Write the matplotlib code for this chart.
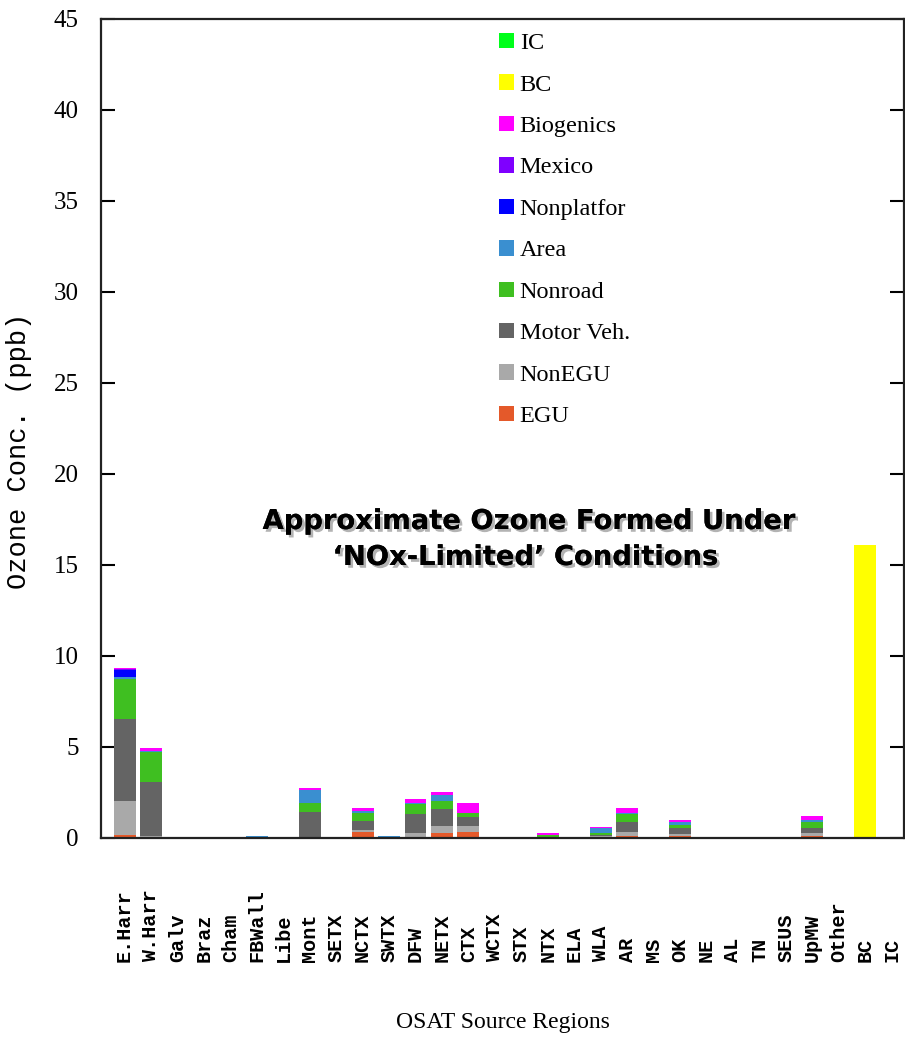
import matplotlib
matplotlib.use("Agg")
import matplotlib.pyplot as plt
import matplotlib.patheffects as pe
from matplotlib.patches import Patch
from matplotlib.transforms import blended_transform_factory

# source regions along the x axis
regions = ['E.Harr', 'W.Harr', 'Galv', 'Braz', 'Cham', 'FBWall', 'Libe', 'Mont',
           'SETX', 'NCTX', 'SWTX', 'DFW', 'NETX', 'CTX', 'WCTX', 'STX', 'NTX',
           'ELA', 'WLA', 'AR', 'MS', 'OK', 'NE', 'AL', 'TN', 'SEUS', 'UpMW',
           'Other', 'BC', 'IC']

# ozone contribution (ppb) by source category, one value per region
egu = [0.18, 0, 0, 0, 0, 0, 0, 0, 0, 0.33, 0, 0, 0.26, 0.35, 0, 0, 0,
       0, 0, 0.10, 0, 0.10, 0, 0, 0, 0, 0.10, 0, 0, 0]
nonegu = [1.84, 0.10, 0, 0, 0, 0, 0, 0.05, 0, 0.10, 0, 0.26, 0.42, 0.31, 0, 0, 0,
          0, 0.10, 0.25, 0, 0.12, 0, 0, 0, 0, 0.16, 0, 0, 0]
motor_veh = [4.50, 2.96, 0, 0, 0, 0, 0, 1.36, 0, 0.50, 0, 1.04, 0.90, 0.51, 0, 0, 0.08,
             0, 0.05, 0.51, 0, 0.31, 0, 0, 0, 0, 0.31, 0, 0, 0]
nonroad = [2.22, 1.68, 0, 0, 0, 0, 0, 0.49, 0, 0.44, 0, 0.55, 0.44, 0.20, 0, 0, 0.10,
           0, 0.10, 0.46, 0, 0.18, 0.05, 0, 0, 0, 0.33, 0, 0, 0]
area = [0.09, 0.05, 0, 0, 0, 0.13, 0, 0.74, 0, 0.09, 0.10, 0.05, 0.33, 0, 0, 0, 0,
        0, 0.30, 0.05, 0, 0.15, 0, 0, 0, 0, 0.09, 0, 0, 0]
nonplatfor = [0.40] + [0] * 29
mexico = [0.04] + [0] * 29
biogenics = [0.09, 0.17, 0, 0, 0, 0, 0, 0.11, 0, 0.21, 0, 0.24, 0.19, 0.54, 0, 0, 0.08,
             0, 0.03, 0.27, 0, 0.11, 0, 0, 0, 0, 0.22, 0, 0, 0]
bc = [0] * 28 + [16.1, 0]
ic = [0] * 29 + [0.07]

series = [
    ('EGU', egu, '#e4592a'),
    ('NonEGU', nonegu, '#a9a9a9'),
    ('Motor Veh.', motor_veh, '#646464'),
    ('Nonroad', nonroad, '#3fbf21'),
    ('Area', area, '#3a8fd0'),
    ('Nonplatfor', nonplatfor, '#0000ff'),
    ('Mexico', mexico, '#7f00ff'),
    ('Biogenics', biogenics, '#ff00ff'),
    ('BC', bc, '#ffff00'),
    ('IC', ic, '#00ff1a'),
]

SERIF = 'Liberation Serif'
MONO = 'Liberation Mono'


def draw_stacks(ax):
    x = list(range(len(regions)))
    bottom = [0.0] * len(regions)
    for name, vals, color in series:
        ax.bar(x, vals, width=0.83, bottom=bottom, color=color, linewidth=0, zorder=2)
        bottom = [b + v for b, v in zip(bottom, vals)]


def main():
    fig = plt.figure(figsize=(9.05, 10.42), dpi=100)
    ax = fig.add_axes([0.1116, 0.1958, 0.8874, 0.786])

    draw_stacks(ax)

    ax.set_xlim(-0.89, 29.47)
    ax.set_ylim(0, 45)
    ax.set_yticks(range(0, 46, 5))
    ax.tick_params(axis='y', direction='in', length=10, width=1.5, pad=16,
                   left=True, right=True, labelsize=18)
    for lbl in ax.get_yticklabels():
        lbl.set_fontfamily(SERIF)
    ax.set_xticks([])
    for sp in ax.spines.values():
        sp.set_linewidth(1.6)
        sp.set_color('#222222')
        sp.set_zorder(3)

    # region names, bottom-aligned below the axis
    trans = blended_transform_factory(ax.transData, ax.transAxes)
    for i, name in enumerate(regions):
        ax.text(i, -0.1514, name, transform=trans, rotation=90, ha='center',
                va='bottom', family=MONO, fontsize=14.5, fontweight='bold',
                clip_on=False)

    ax.set_xlabel('OSAT Source Regions', family=SERIF, fontsize=17)
    ax.xaxis.set_label_coords(0.501, -0.2125)
    ax.set_ylabel('Ozone Conc. (ppb)', family=MONO, fontsize=19.5)
    ax.yaxis.set_label_coords(-0.0858, 0.4725)

    handles = [Patch(facecolor=c, edgecolor='none', label=n) for n, _, c in reversed(series)]
    ax.legend(handles=handles, loc='upper left', bbox_to_anchor=(0.4835, 0.995),
              frameon=False, prop={'family': SERIF, 'size': 17.5},
              handlelength=0.6, handleheight=0.6, handletextpad=0.25,
              labelspacing=0.83, borderaxespad=0)

    shadow = [pe.withSimplePatchShadow(offset=(2, -2), shadow_rgbFace='#a0a0a0', alpha=0.8),
              pe.Normal()]
    fig.text(0.584, 1 - 522 / 1042, 'Approximate Ozone Formed Under', ha='center',
             va='center', fontsize=19.7, fontweight='bold', family='DejaVu Sans',
             path_effects=shadow)
    fig.text(0.580, 1 - 558 / 1042, '\u2018NOx-Limited\u2019 Conditions', ha='center',
             va='center', fontsize=19.7, fontweight='bold', family='DejaVu Sans',
             path_effects=shadow)

    fig.savefig('out.png', dpi=100)


if __name__ == '__main__':
    main()
